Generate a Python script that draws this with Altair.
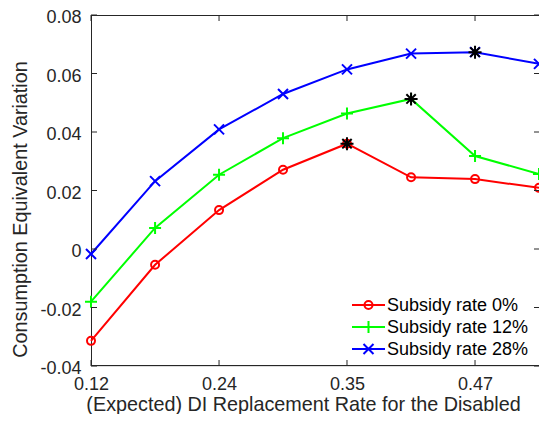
import altair as alt
import pandas as pd

# ---- data ----
x_vals = [0.1176, 0.1765, 0.2353, 0.2941, 0.3529, 0.4118, 0.4706, 0.5294]
series_names = ["Subsidy rate 0%", "Subsidy rate 12%", "Subsidy rate 28%"]
red_vals = [-0.0314, -0.0054, 0.0133, 0.0271, 0.0360, 0.0245, 0.0239, 0.0209]
green_vals = [-0.0180, 0.0072, 0.0254, 0.0379, 0.0463, 0.0513, 0.0318, 0.0256]
blue_vals = [-0.0017, 0.0232, 0.0409, 0.0530, 0.0614, 0.0668, 0.0673, 0.0633]
star_index = [4, 5, 6]  # optimum of each series
x_ticks = [0.1176, 0.2353, 0.3529, 0.4706]
y_ticks = [-0.04, -0.02, 0.0, 0.02, 0.04, 0.06, 0.08]

colors = ["#FF0000", "#00FF00", "#0000FF"]
PLUS = "M-1,0L1,0M0,-1L0,1"
CROSS = "M-1,-1L1,1M-1,1L1,-1"
STAR = "M-1,0L1,0M0,-1L0,1M-0.72,-0.72L0.72,0.72M-0.72,0.72L0.72,-0.72"
shapes = ["circle", PLUS, CROSS]
sizes = [64, 144, 100]

all_vals = [red_vals, green_vals, blue_vals]
rows = []
for name, vals in zip(series_names, all_vals):
    for xv, yv in zip(x_vals, vals):
        rows.append({"series": name, "x": xv, "y": yv})
df = pd.DataFrame(rows)
stars = pd.DataFrame([
    {"x": x_vals[i], "y": vals[i]} for i, vals in zip(star_index, all_vals)
])

W, H = 448, 351
AX = "#262626"
FONT = "Liberation Sans"
LFS = 18
TFS = 19.8

xscale = alt.Scale(domain=[x_vals[0], x_vals[-1]], nice=False, zero=False)
yscale = alt.Scale(domain=[-0.04, 0.08], nice=False, zero=False)

xaxis = alt.Axis(
    values=x_ticks, format=".2f", title="(Expected) DI Replacement Rate for the Disabled",
    domain=False, ticks=False, grid=False, labelFlush=False, labelOverlap=False,
    labelFont=FONT, labelFontSize=LFS, labelColor=AX, labelPadding=9,
    titleFont=FONT, titleFontSize=TFS, titleFontWeight="normal", titleColor=AX,
    titleX=212, titleY=44, titleBaseline="alphabetic", titleAlign="center",
)
yaxis = alt.Axis(
    values=y_ticks, title="Consumption Equivalent Variation",
    labelExpr="datum.value == 0 ? '0' : (datum.value < 0 ? '-' : '') + format(abs(datum.value), '.2f')",
    domain=False, ticks=False, grid=False, labelFlush=False, labelOverlap=False,
    labelFont=FONT, labelFontSize=LFS, labelColor=AX, labelPadding=10, labelOffset=2.5,
    titleFont=FONT, titleFontSize=TFS, titleFontWeight="normal", titleColor=AX,
    titleX=-65, titleY=194, titleBaseline="alphabetic", titleAlign="center", titleAngle=270,
)

X = alt.X("x:Q", scale=xscale, axis=xaxis)
Y = alt.Y("y:Q", scale=yscale, axis=yaxis)

color_scale = alt.Scale(domain=series_names, range=colors)

one_row = pd.DataFrame({"k": [0]})

# box frame (top, left, bottom; right edge lies at the picture's edge)
layers = [
    alt.Chart(one_row).mark_rule(color=AX, strokeWidth=1).encode(
        x=alt.value(0), x2=alt.value(W), y=alt.value(0.5)),
    alt.Chart(one_row).mark_rule(color=AX, strokeWidth=1).encode(
        x=alt.value(0), x2=alt.value(W), y=alt.value(H - 0.5)),
    alt.Chart(one_row).mark_rule(color=AX, strokeWidth=1).encode(
        x=alt.value(0.5), y=alt.value(0), y2=alt.value(H)),
]

lines = alt.Chart(df).mark_line(strokeWidth=2).encode(
    x=X, y=Y,
    color=alt.Color("series:N", scale=color_scale, legend=None),
    detail="series:N",
)
layers.append(lines)

for name, col, shp, sz in zip(series_names, colors, shapes, sizes):
    sub = df[df["series"] == name]
    layers.append(
        alt.Chart(sub).mark_point(shape=shp, size=sz, filled=False, color=col,
                                  strokeWidth=2, opacity=1).encode(x=X, y=Y)
    )

layers.append(
    alt.Chart(stars).mark_point(shape=STAR, size=170, filled=False, color="#000000",
                                strokeWidth=2, opacity=1).encode(x=X, y=Y)
)

# inward ticks (MATLAB style box)
xt = pd.DataFrame({"x": x_ticks})
yt = pd.DataFrame({"y": y_ticks})
TL = 6
layers.append(alt.Chart(xt).mark_rule(color=AX, strokeWidth=1).encode(
    x=X, y=alt.value(H), y2=alt.value(H - TL)))
layers.append(alt.Chart(xt).mark_rule(color=AX, strokeWidth=1).encode(
    x=X, y=alt.value(0), y2=alt.value(TL)))
layers.append(alt.Chart(yt).mark_rule(color=AX, strokeWidth=1).encode(
    y=Y, x=alt.value(0), x2=alt.value(TL)))
layers.append(alt.Chart(yt).mark_rule(color=AX, strokeWidth=1).encode(
    y=Y, x=alt.value(W), x2=alt.value(W - TL + 1)))

# legend (drawn inside the plot, lower right)
leg_y = [290, 312, 334]
for name, col, shp, sz, yy in zip(series_names, colors, shapes, sizes, leg_y):
    one = pd.DataFrame({"label": [name]})
    layers.append(alt.Chart(one).mark_rule(color=col, strokeWidth=2).encode(
        x=alt.value(261), x2=alt.value(294), y=alt.value(yy)))
    layers.append(alt.Chart(one).mark_point(shape=shp, size=sz, filled=False, color=col,
                                            strokeWidth=2, opacity=1).encode(
        x=alt.value(277.5), y=alt.value(yy)))
    layers.append(alt.Chart(one).mark_text(align="left", baseline="middle", font=FONT,
                                           fontSize=LFS, color="#000000").encode(
        x=alt.value(296), y=alt.value(yy + 1), text="label:N"))

chart = alt.layer(*layers).properties(
    width=W, height=H,
    padding={"left": 83, "top": 7, "right": 0, "bottom": 48},
    autosize=alt.AutoSizeParams(type="none"),
).configure_view(stroke=None).configure(background="white")

chart.save("out.html", embed_options={"renderer": "svg", "actions": False})
